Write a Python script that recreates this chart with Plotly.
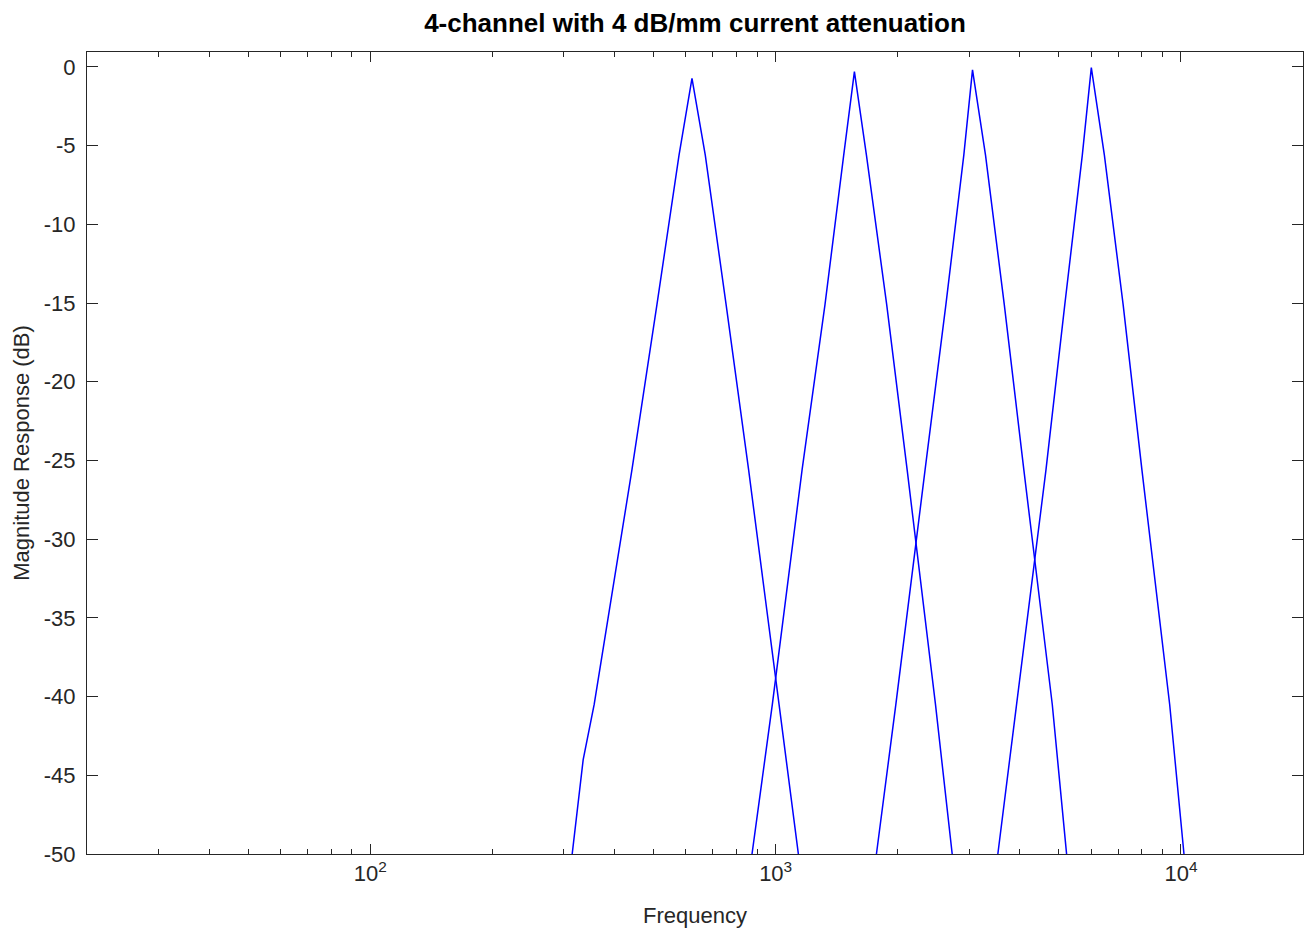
import plotly.graph_objects as go

# ---- data ----
ch1_freq = [314.8, 335.1, 356.7, 442.0, 509.5, 577.6, 621.7, 670.5, 754.7, 857.7, 1019.5, 1137.8]
ch1_db = [-50, -44.0, -40.5, -25.6, -15.1, -5.6, -0.72, -5.6, -15.1, -25.6, -40.5, -50]

ch2_freq = [874.4, 981.4, 1162.0, 1323.5, 1472.0, 1564.3, 1674.8, 1879.2, 2110.8, 2479.3, 2726.2]
ch2_db = [-50, -40.5, -25.6, -15.1, -5.6, -0.3, -5.6, -15.1, -25.6, -40.5, -50]

ch3_freq = [1772.8, 1979.5, 2336.9, 2630.3, 2912.1, 3059.7, 3294.4, 3665.0, 4095.7, 4813.7, 5221.4]
ch3_db = [-50, -40.5, -25.6, -15.1, -5.6, -0.19, -5.6, -15.1, -25.6, -40.5, -50]

ch4_freq = [3533.2, 3929.1, 4644.3, 5168.2, 5709.1, 6008.9, 6471.8, 7199.6, 8009.8, 9378.0, 10172]
ch4_db = [-50, -40.5, -25.6, -15.1, -5.6, -0.04, -5.6, -15.1, -25.6, -40.5, -50]

channels = [(ch1_freq, ch1_db), (ch2_freq, ch2_db), (ch3_freq, ch3_db), (ch4_freq, ch4_db)]

x_tickvals = [100, 1000, 10000]
x_ticktext = ["10<sup>2</sup>", "10<sup>3</sup>", "10<sup>4</sup>"]
x_minor_vals = [30, 40, 50, 60, 70, 80, 90,
                200, 300, 400, 500, 600, 700, 800, 900,
                2000, 3000, 4000, 5000, 6000, 7000, 8000, 9000]
y_tickvals = [0, -5, -10, -15, -20, -25, -30, -35, -40, -45, -50]
y_ticktext = ["0", "-5", "-10", "-15", "-20", "-25", "-30", "-35", "-40", "-45", "-50"]

title_text = "4-channel with 4 dB/mm current attenuation"
x_title = "Frequency"
y_title = "Magnitude Response (dB)"

FONT = "Liberation Sans, Arial, sans-serif"
AX = "#262626"

fig = go.Figure()
for f, d in channels:
    fig.add_trace(go.Scatter(x=f, y=d, mode="lines",
                             line=dict(color="#0000FF", width=1.5),
                             showlegend=False, hoverinfo="skip"))

fig.update_layout(
    width=1314, height=936,
    margin=dict(l=87, r=11, t=52, b=82),
    paper_bgcolor="white", plot_bgcolor="white",
    title=dict(text="<b>" + title_text + "</b>", x=0.5, xref="paper", xanchor="center",
               y=1 - 23 / 936, yref="container", yanchor="middle",
               font=dict(family=FONT, size=26, color="black")),
    font=dict(family=FONT, size=20, color=AX),
)

fig.update_xaxes(
    type="log", range=[1.30103, 4.30103],
    tickmode="array", tickvals=x_tickvals, ticktext=x_ticktext,
    ticks="inside", ticklen=10, tickwidth=1, tickcolor=AX,
    minor=dict(tickmode="array", tickvals=x_minor_vals, ticks="inside",
               ticklen=5, tickwidth=1, tickcolor=AX, showgrid=False),
    showline=True, linecolor=AX, linewidth=1, mirror="ticks",
    showgrid=False, zeroline=False,
    tickfont=dict(family=FONT, size=22, color=AX),
    title=dict(text=x_title, font=dict(family=FONT, size=22, color=AX), standoff=22),
)
fig.update_yaxes(
    range=[-50, 0.95],
    tickmode="array", tickvals=y_tickvals, ticktext=y_ticktext,
    ticks="inside", ticklen=11, tickwidth=1, tickcolor=AX,
    showline=True, linecolor=AX, linewidth=1, mirror="ticks",
    showgrid=False, zeroline=False,
    tickfont=dict(family=FONT, size=22, color=AX),
    ticklabelstandoff=6,
    title=dict(text=y_title, font=dict(family=FONT, size=22, color=AX), standoff=8),
)

fig.write_html("out.html")
